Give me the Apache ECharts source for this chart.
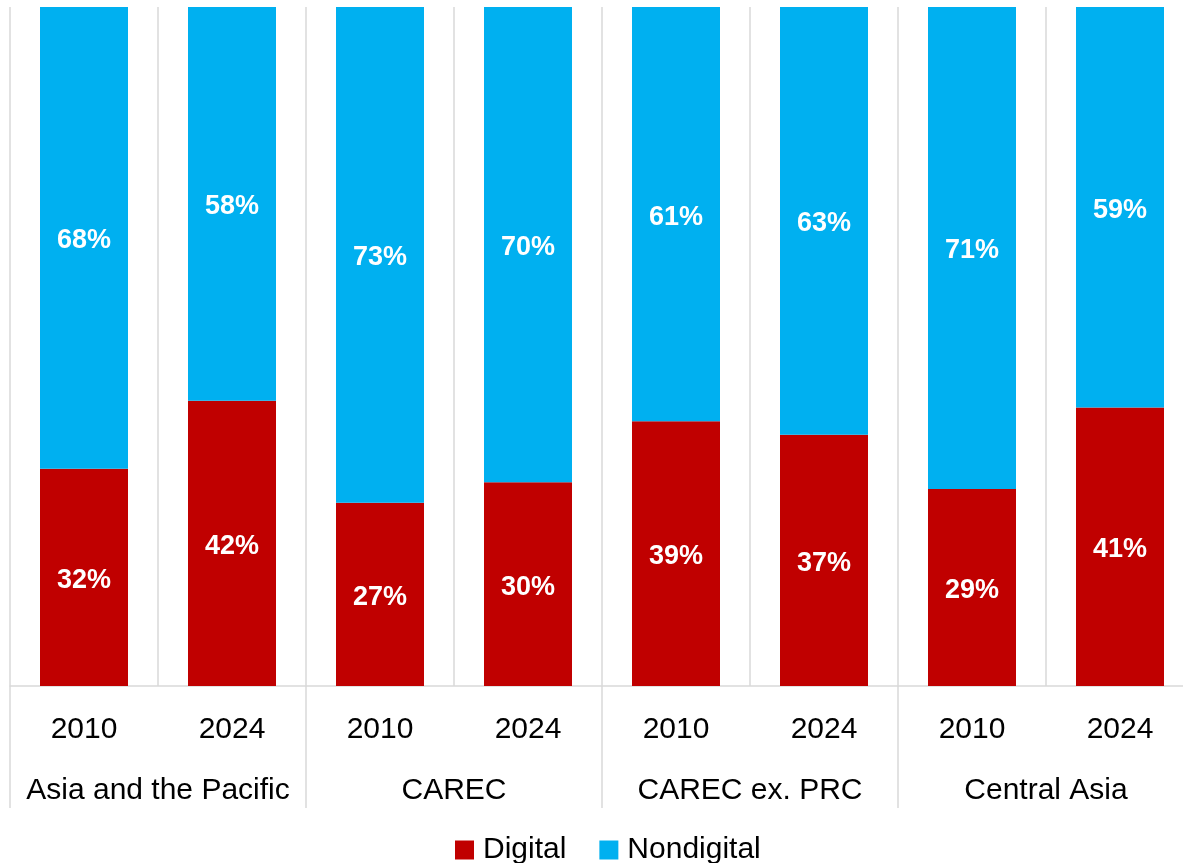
<!DOCTYPE html>
<html>
<head>
<meta charset="utf-8">
<script src="https://cdn.jsdelivr.net/npm/echarts@6/dist/echarts.min.js"></script>
<style>
  html, body { margin: 0; padding: 0; background: #fff; overflow: hidden; }
  /* the plot runs a little past the right edge of the picture */
  #main { width: 1194px; height: 863px; }
</style>
</head>
<body>
<div id="main"></div>
<script>
  // years per bar, group names underneath
  var years = ['2010', '2024', '2010', '2024', '2010', '2024', '2010', '2024'];
  var groups = ['Asia and the Pacific', 'CAREC', 'CAREC ex. PRC', 'Central Asia'];
  var digital = [32, 42, 27, 30, 39, 37, 29, 41];
  var nondigital = [68, 58, 73, 70, 61, 63, 71, 59];

  var font = '"Liberation Sans", Arial, sans-serif';
  var gridColor = '#d9d9d9';

  function barLabel() {
    return {
      show: true,
      position: 'inside',
      formatter: '{c}%',
      color: '#fff',
      fontSize: 27,
      fontWeight: 'bold',
      fontFamily: font,
      offset: [0, 3]
    };
  }

  var chart = echarts.init(document.getElementById('main'));
  chart.setOption({
    animation: false,
    textStyle: { fontFamily: font },
    legend: {
      data: ['Digital', 'Nondigital'],
      left: 450,
      top: 830,
      itemWidth: 19,
      itemHeight: 19,
      itemGap: 33,
      icon: 'rect',
      textStyle: { fontSize: 30, color: '#000', fontFamily: font, padding: [0, 0, 0, 4] }
    },
    grid: { left: 10, top: 7, width: 1184, height: 679 },
    xAxis: [
      {
        type: 'category',
        data: years,
        axisLine: { lineStyle: { color: gridColor, width: 1.5 } },
        axisTick: { show: false },
        splitLine: { show: true, interval: 0, lineStyle: { color: gridColor, width: 1.5 } },
        axisLabel: { interval: 0, fontSize: 30, color: '#000', margin: 29, fontFamily: font }
      },
      {
        type: 'category',
        position: 'bottom',
        data: groups,
        axisLine: { show: false },
        axisTick: { show: true, interval: 0, length: 122, lineStyle: { color: gridColor, width: 1.5 } },
        axisLabel: { interval: 0, fontSize: 30, color: '#000', margin: 90, fontFamily: font }
      }
    ],
    yAxis: {
      type: 'value',
      min: 0,
      max: 100,
      show: false,
      splitLine: { show: false }
    },
    series: [
      {
        name: 'Digital',
        type: 'bar',
        stack: 'total',
        barWidth: 88,
        data: digital,
        itemStyle: { color: '#C00000' },
        label: barLabel()
      },
      {
        name: 'Nondigital',
        type: 'bar',
        stack: 'total',
        barWidth: 88,
        data: nondigital,
        itemStyle: { color: '#00B0F0' },
        label: barLabel()
      }
    ]
  });
</script>
</body>
</html>
